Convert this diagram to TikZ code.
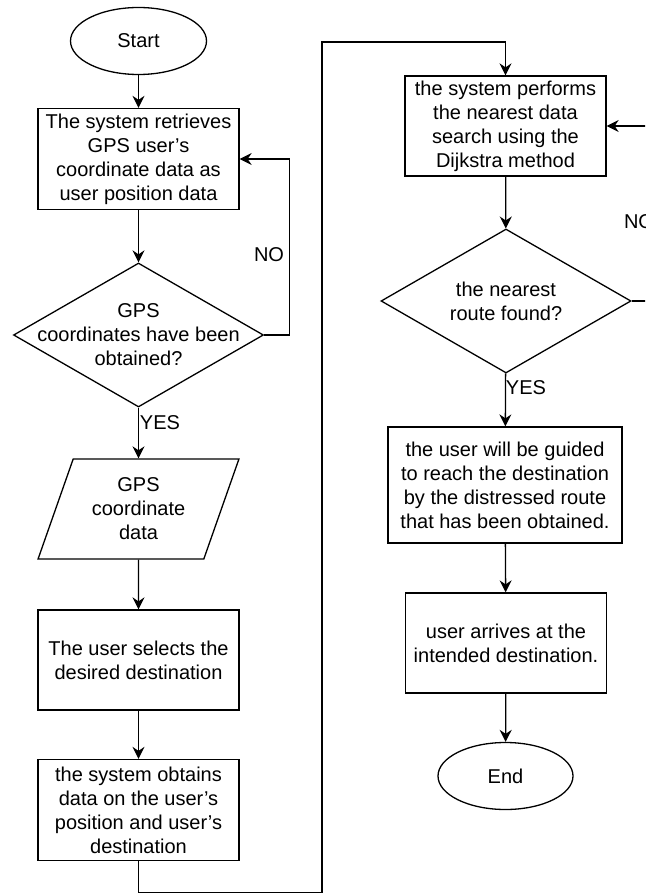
\documentclass[tikz,border=0pt]{standalone}
\usepackage{fontspec}
\setmainfont{Liberation Sans}
\usetikzlibrary{shapes.geometric,arrows.meta}

\begin{document}
\begin{tikzpicture}[x=1pt, y=-1pt, line width=1.3pt,
    >={Stealth[length=12pt,width=12pt,inset=4pt]},
    every node/.style={font=\fontsize{20}{24}\selectfont, align=center, inner sep=0pt},
    term/.style={ellipse, draw, minimum width=136pt, minimum height=67pt},
    proc/.style={rectangle, draw, minimum width=201pt, minimum height=101pt},
    decision/.style={diamond, draw, minimum width=250pt, minimum height=144pt},
    iobox/.style={trapezium, draw, trapezium left angle=68, trapezium right angle=112,
      trapezium stretches=true, minimum width=201pt, minimum height=100pt}]
    \useasboundingbox (0,0) rectangle (645,893);
    \clip (0,0) rectangle (645,893);

    \node (start) at (138.5,41) [term] {Start};
    \node (retrieve) at (138.5,159) [proc] {The system retrieves\\GPS user's\\coordinate data as\\user position data};
    \node (gpsok) at (138.5,335) [decision] {};
    \node (gpsoktext) at (gpsok) {GPS\\coordinates have been\\obtained?};
    \node (gpsdata) at (138.5,509) [iobox] {GPS\\coordinate\\data};
    \node (select) at (138.5,660) [proc, minimum height=100pt] {The user selects the\\desired destination};
    \node (obtain) at (138.5,810) [proc] {the system obtains\\data on the user's\\position and user's\\destination};

    \node (dijkstra) at (505.5,126) [proc, minimum height=100pt] {the system performs\\the nearest data\\search using the\\Dijkstra method};
    \node (found) at (506,301) [decision] {};
    \node (foundtext) at (found) {the nearest\\route found?};
    \node (guide) at (505,485) [proc, minimum width=234pt, minimum height=116pt] {the user will be guided\\to reach the destination\\by the distressed route\\that has been obtained.};
    \node (arrive) at (506,643) [proc, minimum height=100pt] {user arrives at the\\intended destination.};
    \node (end) at (505.5,776) [term, minimum width=135pt] {End};

    \node (no1) at (269,255) {NO};
    \node (yes1) at (160,423) {YES};
    \node (yes2) at (526,388) {YES};
    \node (no2) at (639,222) {NO};

    \draw[->] (start) -- (retrieve);
    \draw[->] (retrieve) -- (gpsok);
    \draw[->] (gpsok.east) -- ++(25,0) |- (retrieve.east);
    \draw[->] (gpsok) -- (gpsdata);
    \draw[->] (gpsdata) -- (select);
    \draw[->] (select) -- (obtain);
    \draw[->] (obtain.south) -- ++(0,31) -| (322,42) -| (dijkstra.north);
    \draw[->] (dijkstra) -- (found);
    \draw[->] (found.east) -- ++(40,0) |- (dijkstra.east);
    \draw[->] (found) -- (guide);
    \draw[->] (guide) -- (arrive);
    \draw[->] (arrive) -- (end);
\end{tikzpicture}
\end{document}
